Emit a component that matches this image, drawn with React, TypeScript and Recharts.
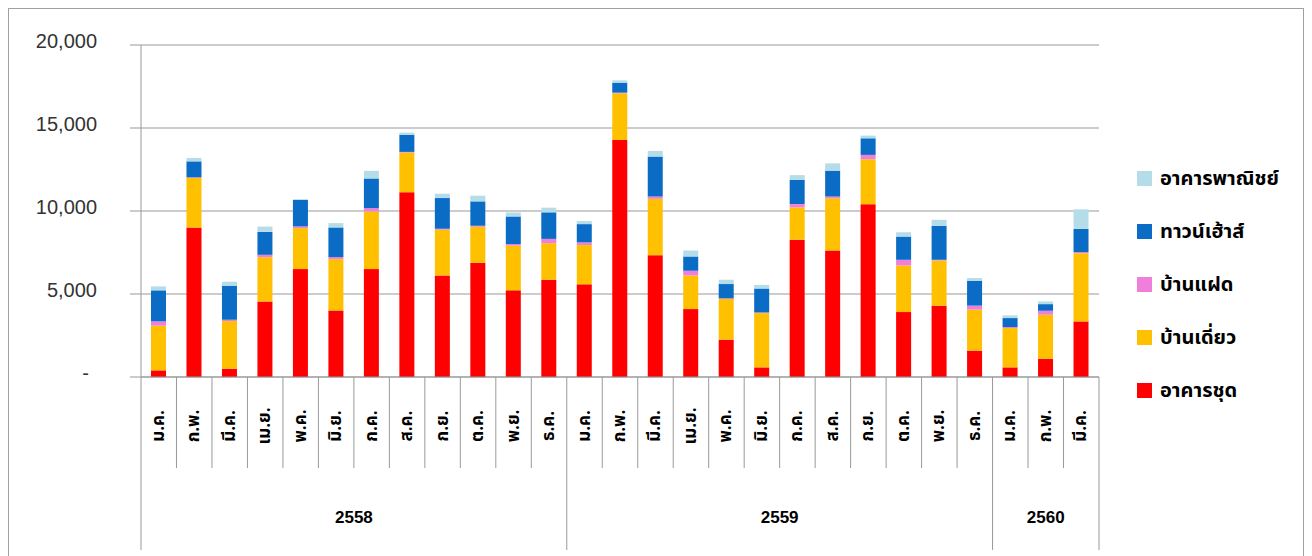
import { BarChart, Bar, XAxis, YAxis, CartesianGrid, Legend } from "recharts";

// เดือน / ปี บนแกน X
const months = [
  "ม.ค.", "ก.พ.", "มี.ค.", "เม.ย.", "พ.ค.", "มิ.ย.", "ก.ค.", "ส.ค.", "ก.ย.", "ต.ค.", "พ.ย.", "ธ.ค.",
  "ม.ค.", "ก.พ.", "มี.ค.", "เม.ย.", "พ.ค.", "มิ.ย.", "ก.ค.", "ส.ค.", "ก.ย.", "ต.ค.", "พ.ย.", "ธ.ค.",
  "ม.ค.", "ก.พ.", "มี.ค.",
];
const years = ["2558", "2559", "2560"];
const monthsPerYear = [12, 12, 3];

// ค่าแต่ละประเภท (หน่วย)
const condo = [400, 9000, 500, 4550, 6500, 4010, 6500, 11130, 6120, 6880, 5220, 5860, 5580, 14280, 7340, 4090, 2250, 580, 8270, 7620, 10410, 3910, 4290, 1590, 580, 1100, 3350];
const detached = [2690, 2990, 2870, 2670, 2470, 3090, 3470, 2390, 2750, 2170, 2690, 2200, 2370, 2810, 3390, 2030, 2450, 3270, 1950, 3150, 2710, 2810, 2730, 2470, 2370, 2650, 4110];
const twin = [260, 40, 80, 140, 100, 120, 200, 40, 60, 60, 100, 260, 160, 40, 140, 280, 40, 40, 200, 100, 260, 340, 40, 240, 60, 240, 60];
const townhouse = [1870, 960, 2050, 1380, 1600, 1790, 1790, 1020, 1850, 1470, 1660, 1600, 1100, 600, 2410, 860, 860, 1440, 1460, 1560, 1000, 1400, 2050, 1500, 540, 400, 1400];
const commercial = [240, 200, 240, 320, 40, 260, 460, 140, 260, 340, 240, 280, 180, 140, 340, 360, 260, 220, 280, 440, 160, 260, 360, 160, 160, 160, 1180];

const yTicks = [0, 5000, 10000, 15000, 20000];

const series = [
  { key: "condo", name: "อาคารชุด", color: "#FF0000" },
  { key: "detached", name: "บ้านเดี่ยว", color: "#FFC000" },
  { key: "twin", name: "บ้านแฝด", color: "#F07FDC" },
  { key: "townhouse", name: "ทาวน์เฮ้าส์", color: "#0A6CC4" },
  { key: "commercial", name: "อาคารพาณิชย์", color: "#B5DCE9" },
];

const data = months.map((m, i) => ({
  month: m,
  condo: condo[i],
  detached: detached[i],
  twin: twin[i],
  townhouse: townhouse[i],
  commercial: commercial[i],
}));

const CHART_W = 1294;
const CHART_H = 548;
const MARGIN = { top: 36, right: 204, bottom: 0, left: 32 };
const Y_W = 100;
const PLOT_W = CHART_W - MARGIN.left - MARGIN.right - Y_W;
const LINE = "#999";
const THAI = '"Noto Sans Thai", "Noto Sans", "DejaVu Sans", sans-serif';

// จุดเริ่มของแต่ละปี
const yearStarts = monthsPerYear.map((_, k) =>
  monthsPerYear.slice(0, k).reduce((a, b) => a + b, 0)
);

function YTick(props: any) {
  const { x, y, payload } = props;
  const zero = payload.value === 0;
  return (
    <text
      x={zero ? x - 8 : x}
      y={y}
      dy={3}
      textAnchor="end"
      fill="#333"
      fontSize={20}
      fontFamily='"Liberation Sans", Arial, sans-serif'
    >
      {zero ? "-" : payload.value.toLocaleString("en-US")}
    </text>
  );
}

function MonthTick(props: any) {
  const { x, y, payload } = props;
  const i = payload.index ?? props.index;
  const band = PLOT_W / months.length;
  const left = x - band / 2;
  const right = x + band / 2;
  const yearIdx = yearStarts.indexOf(i);
  const isLast = i === months.length - 1;
  const cy = y + 49;
  return (
    <g>
      <line
        x1={left}
        x2={left}
        y1={y}
        y2={y + (yearIdx >= 0 ? 173 : 91)}
        stroke={LINE}
      />
      {isLast && <line x1={right} x2={right} y1={y} y2={y + 173} stroke={LINE} />}
      <text
        x={x}
        y={cy}
        transform={`rotate(-90 ${x} ${cy})`}
        textAnchor="middle"
        dominantBaseline="central"
        fontSize={17}
        fontWeight="bold"
        fill="#000"
        fontFamily={THAI}
      >
        {payload.value}
      </text>
      {yearIdx >= 0 && (
        <text
          x={left + (monthsPerYear[yearIdx] * band) / 2}
          y={y + 140}
          textAnchor="middle"
          dominantBaseline="central"
          fontSize={17}
          fontWeight="bold"
          fill="#000"
          fontFamily='"Liberation Sans", Arial, sans-serif'
        >
          {years[yearIdx]}
        </text>
      )}
    </g>
  );
}

function LegendBox() {
  return (
    <div style={{ fontFamily: THAI }}>
      {[...series].reverse().map((s) => (
        <div
          key={s.key}
          style={{ display: "flex", alignItems: "center", height: 53 }}
        >
          <span
            style={{
              width: 15,
              height: 15,
              background: s.color,
              display: "inline-block",
              marginRight: 8,
            }}
          />
          <span style={{ fontSize: 20, fontWeight: "bold", color: "#000" }}>
            {s.name}
          </span>
        </div>
      ))}
    </div>
  );
}

export default function App() {
  return (
    <div
      style={{
        width: 1296,
        height: 560,
        border: "1px solid #a0a0a0",
        boxSizing: "border-box",
        position: "relative",
        background: "#fff",
      }}
    >
      <BarChart width={CHART_W} height={CHART_H} data={data} margin={MARGIN} barSize={15}>
        <CartesianGrid horizontal vertical={false} stroke={LINE} />
        <XAxis
          dataKey="month"
          interval={0}
          height={180}
          tickLine={false}
          tickSize={0}
          tickMargin={0}
          axisLine={{ stroke: LINE }}
          tick={<MonthTick />}
        />
        <YAxis
          width={Y_W}
          domain={[0, 20000]}
          ticks={yTicks}
          tickSize={11}
          tickMargin={33}
          tickLine={{ stroke: LINE }}
          axisLine={{ stroke: LINE }}
          tick={<YTick />}
        />
        <Legend
          layout="vertical"
          align="center"
          verticalAlign="middle"
          content={<LegendBox />}
          wrapperStyle={{ left: 1128, top: 143, width: 170 }}
        />
        {series.map((s) => (
          <Bar
            key={s.key}
            dataKey={s.key}
            name={s.name}
            stackId="a"
            fill={s.color}
            isAnimationActive={false}
          />
        ))}
      </BarChart>
    </div>
  );
}
